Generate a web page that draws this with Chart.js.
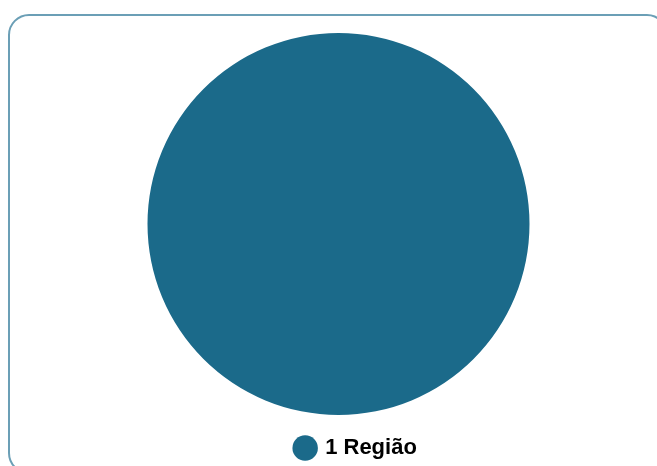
<!DOCTYPE html>
<html>
<head>
<meta charset="utf-8">
<script src="https://cdn.jsdelivr.net/npm/chart.js@4"></script>
<style>
  html, body { margin: 0; padding: 0; background: #fff; overflow: hidden; }
  .card {
    position: absolute; left: 8px; top: 14px; width: 660px; height: 460px;
    border: 2px solid #6b9fb6; border-radius: 21px; box-sizing: border-box;
  }
  .wrap { position: absolute; left: 9px; top: 17px; width: 659px; height: 452px; }
</style>
</head>
<body>
<div class="card"></div>
<div class="wrap"><canvas id="chart"></canvas></div>
<script>
const categorias = ['1 Região'];
const valores = [1];
const cores = ['#1b6a8a'];

const ctx = document.getElementById('chart').getContext('2d');

// a legenda da referência fica um pouco à direita do centro
const deslocaLegenda = {
    id: 'deslocaLegenda',
    afterLayout(chart) {
        chart.legend.left += 18;
        chart.legend.right += 18;
    }
};

const grafico = new Chart(ctx, {
    type: 'pie',
    data: {
        labels: categorias,
        datasets: [{ data: valores, backgroundColor: cores, borderWidth: 0 }]
    },
    options: {
        responsive: true,
        maintainAspectRatio: false,
        animation: false,
        layout: { padding: { top: 16, bottom: 0 } },
        plugins: {
            legend: {
                position: 'bottom',
                labels: {
                    usePointStyle: true,
                    pointStyle: 'circle',
                    boxWidth: 18,
                    boxHeight: 18,
                    padding: 22,
                    color: '#000',
                    font: { family: '"Liberation Sans", Arial, sans-serif', size: 22, weight: 'bold' }
                }
            },
            tooltip: { enabled: false }
        }
    },
    plugins: [deslocaLegenda]
});
</script>
</body>
</html>
